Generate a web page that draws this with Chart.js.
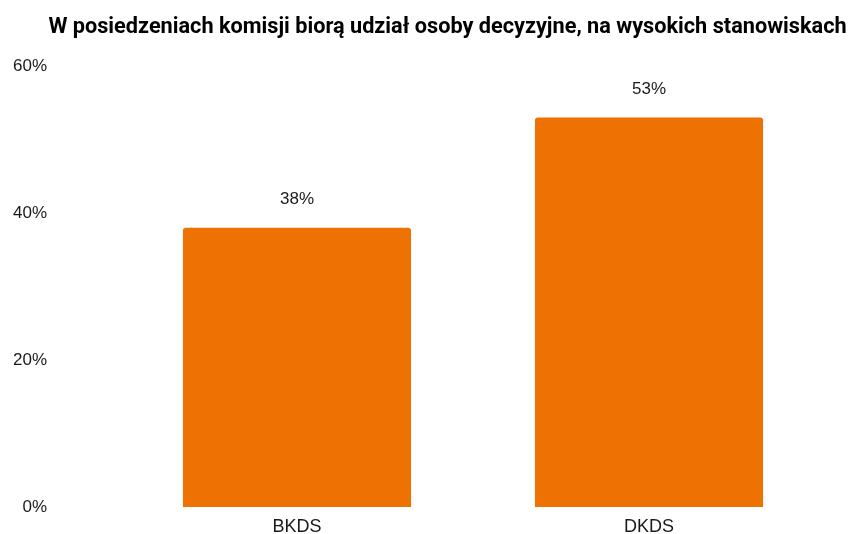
<!DOCTYPE html>
<html lang="pl">
<head>
<meta charset="utf-8">
<title>Udział osób decyzyjnych</title>
<script src="https://cdn.jsdelivr.net/npm/chart.js@4.4.1/dist/chart.umd.min.js"></script>
<style>
  html, body { margin: 0; padding: 0; background: #fff; }
  #wrap { width: 852px; height: 534px; }
</style>
</head>
<body>
<div id="wrap"><canvas id="chart" width="852" height="534"></canvas></div>
<script>
// Dane wykresu
const categories = ['BKDS', 'DKDS'];
const shares = [38, 53];
const tickValues = [0, 20, 40, 60];

const chartTitle = 'W posiedzeniach komisji biorą udział osoby decyzyjne, na wysokich stanowiskach';
const ORANGE = '#EE7203';
const TEXT = '#1a1a1a';
const SANS = '"Liberation Sans", Arial, Helvetica, sans-serif';

// Tytuł rysowany ręcznie (przesunięty w prawo względem środka)
const titlePlugin = {
    id: 'titlePlugin',
    afterDraw(chart) {
        const ctx = chart.ctx;
        ctx.save();
        ctx.font = 'bold 21.7px Roboto, sans-serif';
        ctx.fillStyle = '#000';
        ctx.textAlign = 'center';
        ctx.textBaseline = 'middle';
        ctx.fillText(chartTitle, 447.5, 27.5);
        ctx.restore();
    }
};

// Etykiety wartości nad słupkami
const valueLabels = {
    id: 'valueLabels',
    afterDatasetsDraw(chart) {
        const ctx = chart.ctx;
        const meta = chart.getDatasetMeta(0);
        ctx.save();
        ctx.font = '17px ' + SANS;
        ctx.fillStyle = TEXT;
        ctx.textAlign = 'center';
        ctx.textBaseline = 'middle';
        meta.data.forEach((bar, i) => {
            ctx.fillText(shares[i] + '%', bar.x, bar.y - 28);
        });
        ctx.restore();
    }
};

new Chart(document.getElementById('chart'), {
    type: 'bar',
    data: {
        labels: categories,
        datasets: [{
            data: shares,
            backgroundColor: ORANGE,
            borderRadius: { topLeft: 3, topRight: 3 },
            borderSkipped: 'bottom',
            barPercentage: 0.648,
            categoryPercentage: 1
        }]
    },
    options: {
        responsive: false,
        animation: false,
        layout: { padding: { left: 8, right: 27, top: 66, bottom: 0 } },
        plugins: {
            legend: { display: false },
            tooltip: { enabled: false },
            title: { display: false }
        },
        scales: {
            x: {
                grid: { display: false, drawTicks: false },
                border: { display: false },
                afterFit(axis) { axis.height = 27; },
                ticks: {
                    color: TEXT,
                    padding: 9,
                    font: { family: SANS, size: 18 }
                }
            },
            y: {
                min: 0,
                max: 60,
                grid: { display: false, drawTicks: false },
                border: { display: false },
                afterFit(axis) {
                    // duży odstęp etykiet nie powinien zwężać wykresu w pionie
                    axis.width = 113;
                    axis.paddingTop = 0;
                    axis.paddingBottom = 0;
                },
                afterBuildTicks(axis) {
                    axis.ticks = tickValues.map(v => ({ value: v }));
                },
                ticks: {
                    color: TEXT,
                    padding: 74,
                    font: { family: SANS, size: 17 },
                    callback: v => v + '%'
                }
            }
        }
    },
    plugins: [valueLabels, titlePlugin]
});
</script>
</body>
</html>
